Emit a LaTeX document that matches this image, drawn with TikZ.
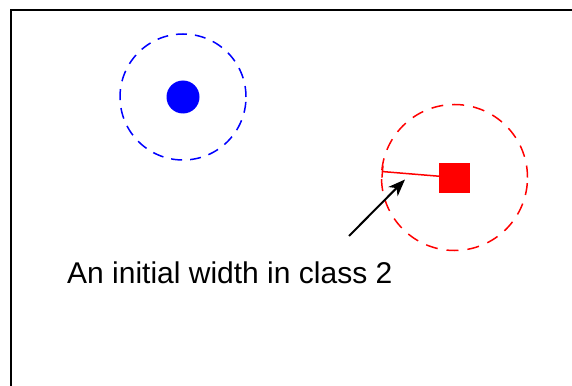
\documentclass[tikz,border=0pt]{standalone}
\usepackage{fontspec}
\setmainfont{Liberation Sans}
\usetikzlibrary{arrows.meta}
\begin{document}
\begin{tikzpicture}[x=1pt,y=-1pt,
  frame/.style={draw=black,line width=2pt},
  ring/.style={circle,draw,dash pattern=on 11pt off 8pt,line width=1.5pt,inner sep=0pt},
  pointer/.style={draw=black,line width=2pt,-{Stealth[length=17pt,width=13pt,inset=5pt]}},
  label/.style={font=\fontsize{30}{36}\selectfont,inner sep=0pt,anchor=base west}]
\useasboundingbox (0,0) rectangle (572,385);
\clip (0,0) rectangle (572,385);
\fill[white] (0,0) rectangle (572,385);
\draw[frame] (11,10) rectangle (600,420);
% blue class
\node[ring,draw=blue,minimum size=126pt] (bring) at (183,97) {};
\node[circle,fill=blue,minimum size=33pt,inner sep=0pt] (bdot) at (183,97) {};
% red class
\node[ring,draw=red,minimum size=146pt,dash pattern=on 12pt off 9pt] (rring) at (454.5,177.5) {};
\node[fill=red,minimum width=31pt,minimum height=30pt,inner sep=0pt] (sq) at (454.5,177.5) {};
\coordinate (rim) at (381.7,171.5);
\draw[red,line width=1.5pt,-{Bar[width=12pt,line width=1.5pt]}] (sq) -- (rim);
% label and arrow
\node[label] (txt) at (67,283) {An initial width in class 2};
\coordinate (from) at (349,236);
\coordinate (to) at (405,179.5);
\draw[pointer] (from) -- (to);
\end{tikzpicture}
\end{document}
